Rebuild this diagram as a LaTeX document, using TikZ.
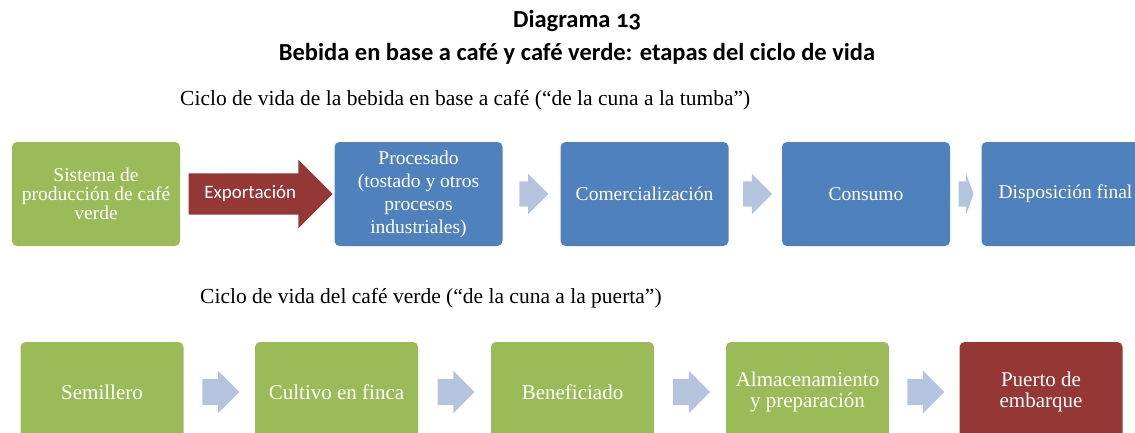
\documentclass[tikz,border=0pt]{standalone}
\usepackage{fontspec}
\setmainfont{Liberation Serif}
\newfontfamily\titlefont{Carlito}[Numbers=OldStyle]
\usetikzlibrary{shapes.arrows,calc}
\definecolor{boxgreen}{HTML}{9BBB59}
\definecolor{boxblue}{HTML}{4F81BD}
\definecolor{boxred}{HTML}{953735}
\definecolor{chevblue}{HTML}{B4C4DE}
\tikzstyle{boxg}=[rectangle,rounded corners=5pt,fill=boxgreen,text=white,minimum width=168pt,minimum height=104pt,align=center,inner sep=2pt,font=\fontsize{19.5}{19}\selectfont]
\tikzstyle{boxb}=[boxg,fill=boxblue]
\tikzstyle{boxlow}=[boxg,minimum width=163pt,minimum height=100pt,font=\fontsize{21}{21}\selectfont]
\tikzstyle{chev}=[single arrow,fill=chevblue,minimum height=29pt,inner xsep=0pt,inner ysep=12.5pt,single arrow head extend=7.5pt]

\begin{document}
\begin{tikzpicture}[x=1pt,y=-1pt]
    \clip (0,0) rectangle (1135,432);
    % titles
    \node[font=\titlefont\bfseries\fontsize{24.5}{33}\selectfont,align=center] (title) at (577,37) {Diagrama 13\\Bebida en base a café y café verde: etapas del ciclo de vida};
    \node[anchor=west,inner sep=0pt,font=\fontsize{21.5}{24}\selectfont] (sub1) at (180,100) {Ciclo de vida de la bebida en base a café (“de la cuna a la tumba”)};
    \node[anchor=west,inner sep=0pt,font=\fontsize{21.5}{24}\selectfont] (sub2) at (200,298) {Ciclo de vida del café verde (“de la cuna a la puerta”)};

    % top row
    \node[boxg] (sis) at (96,194) {Sistema de\\producción de café\\verde};
    \node[boxb,font=\fontsize{19.5}{23}\selectfont] (proc) at (418.5,194) {Procesado\\(tostado y otros\\procesos\\industriales)};
    \node[boxb] (com) at (644.5,194) {Comercialización};
    \node[boxb] (cons) at (866,194) {Consumo};
    \node[boxb] (disp) at (1065.5,194) {Disposición final};

    \node[single arrow,fill=boxred,text=white,minimum height=144pt,text height=13pt,text depth=4pt,inner xsep=2pt,inner ysep=12pt,single arrow head extend=13.5pt,font=\titlefont\fontsize{19}{19}\selectfont] (exp) at ([xshift=-7pt]$(sis.east)!0.5!(proc.west)$) {Exportación};
    \foreach \from/\to/\n in {proc/com/f1,com/cons/f2}
    \node[chev] (\n) at ([xshift=-4pt]$(\from.east)!0.5!(\to.west)$) {};
    \node[chev,minimum height=15pt,single arrow tip angle=140] (f3) at ([xshift=-2pt]$(cons.east)!0.5!(disp.west)$) {};

    % bottom row
    \node[boxlow] (sem) at (102,392) {Semillero};
    \node[boxlow] (cul) at (336.5,392) {Cultivo en finca};
    \node[boxlow] (ben) at (572.5,392) {Beneficiado};
    \node[boxlow] (alm) at (807.5,392) {Almacenamiento\\y preparación};
    \node[boxlow,fill=boxred] (pue) at (1041,392) {Puerto de\\embarque};

    \foreach \from/\to/\n in {sem/cul/g1,cul/ben/g2,ben/alm/g3,alm/pue/g4}
    \node[chev,minimum height=37pt,inner ysep=13pt,single arrow head extend=8pt] (\n) at ([xshift=-5pt]$(\from.east)!0.5!(\to.west)$) {};
\end{tikzpicture}
\end{document}
